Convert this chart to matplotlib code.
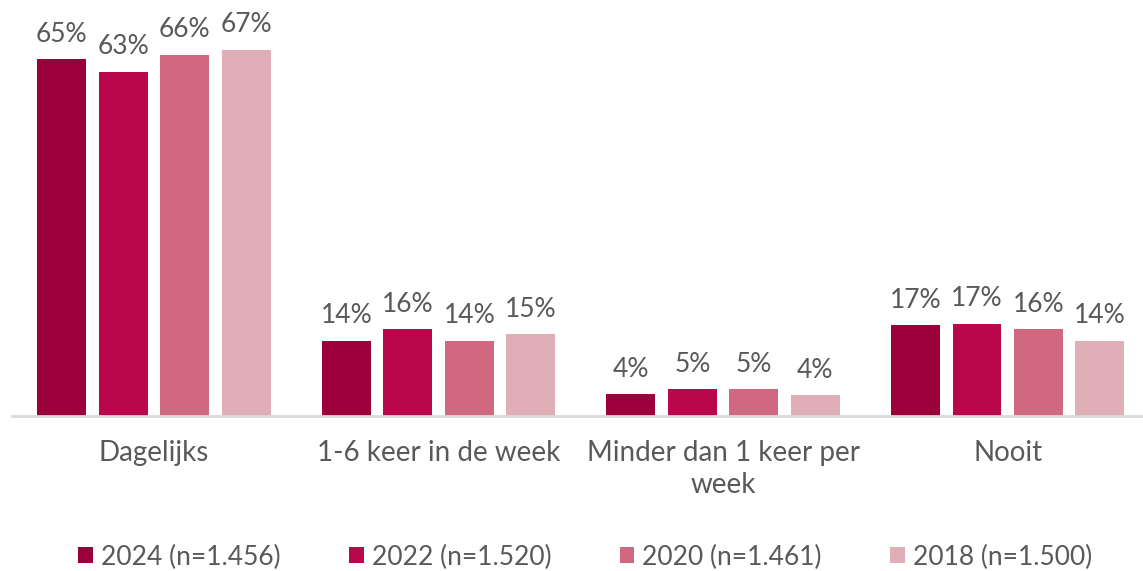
import matplotlib
matplotlib.use("Agg")
import matplotlib.pyplot as plt
import numpy as np

categories = ["Dagelijks", "1-6 keer in de week", "Minder dan 1 keer per\nweek", "Nooit"]
series_names = ["2024 (n=1.456)", "2022 (n=1.520)", "2020 (n=1.461)", "2018 (n=1.500)"]
values_2024 = [65.2, 13.8, 4.0, 16.6]
values_2022 = [62.9, 15.9, 4.9, 16.9]
values_2020 = [66.0, 13.8, 4.9, 15.9]
values_2018 = [67.0, 14.9, 3.8, 13.8]
labels_2024 = [65, 14, 4, 17]
labels_2022 = [63, 16, 5, 17]
labels_2020 = [66, 14, 5, 16]
labels_2018 = [67, 15, 4, 14]
colors = ["#9B003A", "#BA064B", "#D06880", "#E0AEB7"]

series = [values_2024, values_2022, values_2020, values_2018]
labels = [labels_2024, labels_2022, labels_2020, labels_2018]

plt.rcParams['font.family'] = ['Lato', 'DejaVu Sans']
text_color = "#595959"

fig = plt.figure(figsize=(11.43, 5.71), dpi=100)
ax = fig.add_axes([11.7/1143, 155/571, (1150-11.7)/1143, 416/571])

x = np.arange(len(categories))
step = 0.216
width = 0.172
for i, (vals, labs, col, name) in enumerate(zip(series, labels, colors, series_names)):
    pos = x + (i - 1.5) * step
    ax.bar(pos, vals, width=width, color=col, label=name, zorder=2)
    for p, v, l in zip(pos, vals, labs):
        ax.annotate(f"{l}%", (p, v), xytext=(0, 9), textcoords="offset points",
                    ha="center", va="bottom", fontsize=19, color=text_color)

ax.set_xlim(-0.5, 3.5)
ax.set_ylim(0, 416/5.47)
for s in ["top", "right", "left"]:
    ax.spines[s].set_visible(False)
ax.spines["bottom"].set_color("#D9D9D9")
ax.spines["bottom"].set_linewidth(2)
ax.set_yticks([])
ax.set_xticks(x)
ax.set_xticklabels(categories, fontsize=20, color=text_color,
                   linespacing=1.3, va="top")
ax.tick_params(axis="x", length=0, pad=17)

leg = fig.legend(loc="center", bbox_to_anchor=(0.512, 1 - 557/571), ncol=4,
                 frameon=False, fontsize=19, handlelength=0.55, handleheight=0.55,
                 handletextpad=0.3, columnspacing=2.6)
for t in leg.get_texts():
    t.set_color(text_color)

fig.savefig("out.png", dpi=100)
